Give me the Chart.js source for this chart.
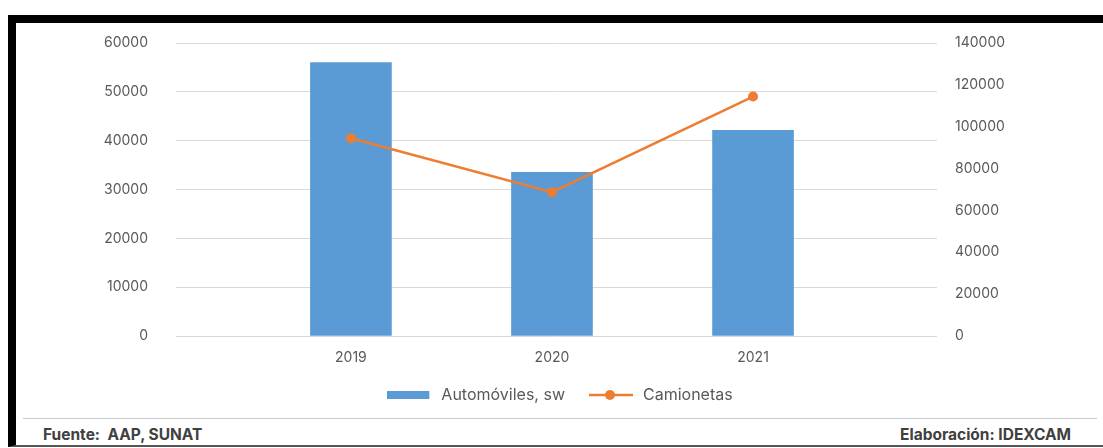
<!DOCTYPE html>
<html><head><meta charset="utf-8">
<script src="https://cdn.jsdelivr.net/npm/chart.js@4"></script>
<style>
html,body{margin:0;padding:0;background:#fff;width:1103px;height:448px;overflow:hidden;font-family:Inter,sans-serif;}
#frame{position:absolute;left:8px;top:15px;width:1095px;height:432px;box-sizing:border-box;border-top:8px solid #000;border-left:8px solid #000;border-bottom:2px solid #555;}
#wrap{position:absolute;left:17px;top:24px;width:1086px;height:390px;}
#sep{position:absolute;left:23px;top:418px;width:1074px;height:1px;background:#c8c8c8;}
.foot{position:absolute;top:426px;font-weight:700;font-size:15.5px;color:#404040;line-height:18px;white-space:pre;}
</style></head>
<body>
<div id="frame"></div>
<div id="wrap"><canvas id="c" width="1086" height="390"></canvas></div>
<div id="sep"></div>
<div class="foot" style="left:43px">Fuente:  AAP, SUNAT</div>
<div class="foot" style="right:32px">Elaboración: IDEXCAM</div>
<script>
const categories = [2019, 2020, 2021];
const automoviles = [56000, 33500, 42100];
const camionetas = [94500, 68700, 114400];
const leftTicks = [0, 10000, 20000, 30000, 40000, 50000, 60000];
const rightTicks = [0, 20000, 40000, 60000, 80000, 100000, 120000, 140000];
const seriesNames = ['Automóviles, sw', 'Camionetas'];

const BLUE = '#5B9BD5', ORANGE = '#ED7D31';

function barImg(){const c=document.createElement('canvas');c.width=46;c.height=8;const g=c.getContext('2d');g.fillStyle=BLUE;g.fillRect(0,0,42,8);return c;}
function lineImg(){const c=document.createElement('canvas');c.width=46;c.height=12;const g=c.getContext('2d');g.strokeStyle=ORANGE;g.lineWidth=2.5;g.beginPath();g.moveTo(0,6);g.lineTo(44,6);g.stroke();g.fillStyle=ORANGE;g.beginPath();g.arc(21,6,5,0,Math.PI*2);g.fill();return c;}
const legendImgs=[barImg(),lineImg()];

Chart.defaults.font.family='Inter';
Chart.defaults.font.size=14;
Chart.defaults.color='#595959';

new Chart(document.getElementById('c'),{
  type:'bar',
  data:{datasets:[
    {type:'bar',label:seriesNames[0],data:categories.map((c,i)=>({x:c,y:automoviles[i]})),backgroundColor:BLUE,barThickness:81,yAxisID:'y',order:1},
    {type:'line',label:seriesNames[1],data:categories.map((c,i)=>({x:c,y:camionetas[i]})),borderColor:ORANGE,backgroundColor:ORANGE,borderWidth:2.5,pointRadius:5,pointBorderWidth:0,pointBackgroundColor:ORANGE,yAxisID:'y1',order:0,tension:0}
  ]},
  options:{
    responsive:false,animation:false,
    layout:{padding:{top:19,bottom:1,left:0,right:0}},
    plugins:{
      tooltip:{enabled:false},
      legend:{position:'bottom',labels:{usePointStyle:true,pointStyleWidth:46,padding:24,color:'#595959',font:{size:16},
        sort:(a,b)=>a.datasetIndex-b.datasetIndex,
        generateLabels:(chart)=>{const items=Chart.defaults.plugins.legend.labels.generateLabels(chart);items.forEach(it=>{it.pointStyle=legendImgs[it.datasetIndex];});return items;}}}
    },
    scales:{
      x:{type:'linear',offset:false,min:2018.13,max:2021.915,grid:{display:false,drawTicks:false},border:{display:false},
        afterBuildTicks:s=>{s.ticks=categories.map(v=>({value:v}));},
        afterFit:s=>{s.height=27;},
        ticks:{padding:13,callback:v=>String(v),maxRotation:0,autoSkip:false}},
      y:{position:'left',min:0,max:60000,grid:{color:'#d9d9d9',drawTicks:false},border:{display:false},
        afterBuildTicks:s=>{s.ticks=leftTicks.map(v=>({value:v}));},
        afterFit:s=>{s.width=159;s.paddingTop=0;s.paddingBottom=0;},
        ticks:{padding:28,callback:v=>String(v)}},
      y1:{position:'right',min:0,max:140000,grid:{display:false,drawTicks:false},border:{display:false},
        afterBuildTicks:s=>{s.ticks=rightTicks.map(v=>({value:v}));},
        afterFit:s=>{s.width=166;s.paddingTop=0;s.paddingBottom=0;},
        ticks:{padding:18,callback:v=>String(v)}}
    }
  }
});
</script>
</body></html>
